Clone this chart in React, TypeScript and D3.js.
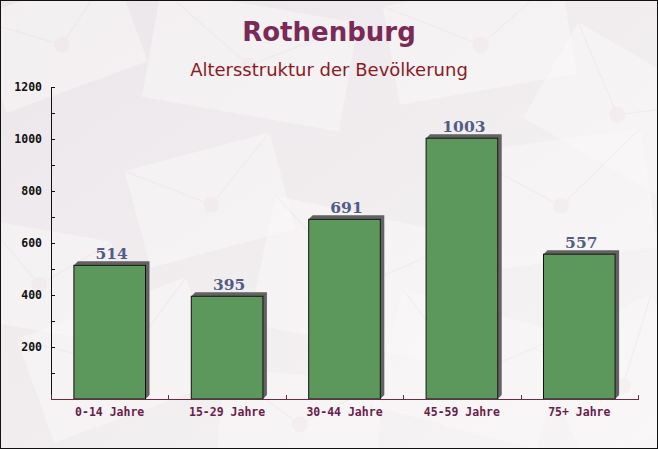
import React from "react";
import * as d3 from "d3";

const title = "Rothenburg";
const subtitle = "Altersstruktur der Bevölkerung";
const categories = ["0-14 Jahre", "15-29 Jahre", "30-44 Jahre", "45-59 Jahre", "75+ Jahre"];
const values = [514, 395, 691, 1003, 557];
const yTickValues = [200, 400, 600, 800, 1000, 1200];
const yMinorTicks = [100, 200, 300, 400, 500, 600, 700, 800, 900, 1000, 1100, 1200];

// decorative envelopes: [cx, cy, w, h, angle]
const envelopes: [number, number, number, number, number][] = [
  [60, 40, 150, 100, -20],
  [250, 60, 200, 110, 10],
  [480, 40, 180, 100, -10],
  [620, 110, 160, 110, 30],
  [210, 200, 150, 100, -15],
  [360, 280, 200, 130, 12],
  [560, 200, 180, 120, -8],
  [120, 360, 180, 110, -20],
  [470, 370, 170, 120, 15],
  [620, 380, 130, 130, -25],
  [300, 420, 160, 90, 5],
  [40, 280, 130, 100, 10],
];

export default function App() {
  const W = 658;
  const H = 449;
  const left = 51;
  const right = 638;
  const top = 87;
  const bottom = 399;

  const x = d3.scaleBand<string>().domain(categories).range([left, right]).paddingInner(0.39).paddingOuter(0.195);
  const y = d3.scaleLinear().domain([0, 1200]).range([bottom, top]);
  const bw = x.bandwidth();
  const sh = 4;
  const bounds = d3.range(categories.length + 1).map((i) => left + (i * (right - left)) / categories.length);

  return (
    <div style={{ position: "fixed", left: 0, top: 0 }}>
      <svg width={W} height={H} style={{ display: "block" }}>
        <defs>
          <linearGradient id="bg" x1="0" y1="0" x2="1" y2="1">
            <stop offset="0" stopColor="#ebe6ea" />
            <stop offset="1" stopColor="#f7f5f5" />
          </linearGradient>
        </defs>
        <rect x={0} y={0} width={W} height={H} fill="url(#bg)" />
        {envelopes.map(([cx, cy, w, h, a], i) => (
          <g key={i} transform={`translate(${cx},${cy}) rotate(${a})`} opacity={0.5}>
            <rect x={-w / 2} y={-h / 2} width={w} height={h} fill="#fbf9f9" />
            <path d={`M${-w / 2},${-h / 2} L0,${h * 0.05} L${w / 2},${-h / 2}`} fill="none" stroke="#f1eaeb" strokeWidth={1.2} />
            <circle cx={0} cy={h * 0.05} r={8} fill="#f4ecee" />
          </g>
        ))}
        <rect x={0.5} y={0.5} width={W - 1} height={H - 1} fill="none" stroke="#111" strokeWidth={1} />

        <text x={329} y={41} textAnchor="middle" fontFamily="DejaVu Sans" fontWeight="bold" fontSize={26} fill="#7b2a58">
          {title}
        </text>
        <text x={329} y={76} textAnchor="middle" fontFamily="DejaVu Sans" fontSize={18} fill="#8b1a1f">
          {subtitle}
        </text>

        {categories.map((c, i) => {
          const x0 = x(c)!;
          const yt = y(values[i]);
          const shadow = `M${x0},${yt} L${x0 + sh},${yt - sh} L${x0 + bw + sh},${yt - sh} L${x0 + bw + sh},${bottom - sh} L${x0 + bw},${bottom} L${x0 + bw},${yt} Z`;
          return (
            <g key={c}>
              <path d={shadow} fill="#626262" />
              <rect x={x0} y={yt} width={bw} height={bottom - yt} fill="#5c975c" stroke="#111" strokeWidth={1} />
              <text x={x0 + bw / 2 + 2} y={yt - 6} textAnchor="middle" fontFamily="DejaVu Serif" fontWeight="bold" fontSize={15.5} fill="#525c84">
                {values[i]}
              </text>
              <text x={x0 + bw / 2} y={416} textAnchor="middle" fontFamily="DejaVu Sans Mono" fontWeight="bold" fontSize={11.5} fill="#6b1d4a">
                {c}
              </text>
            </g>
          );
        })}

        <line x1={left + 0.5} x2={left + 0.5} y1={top} y2={bottom} stroke="#111" />
        {yMinorTicks.map((t) => (
          <line key={t} x1={left} x2={left + 4} y1={Math.round(y(t)) + 0.5} y2={Math.round(y(t)) + 0.5} stroke="#111" />
        ))}
        {yTickValues.map((t) => (
          <text key={t} x={42} y={y(t) + 4} textAnchor="end" fontFamily="DejaVu Sans Mono" fontWeight="bold" fontSize={11.5} fill="#111">
            {t}
          </text>
        ))}
        <line x1={left} x2={right + 1} y1={bottom + 0.5} y2={bottom + 0.5} stroke="#6b2a4a" />
        {bounds.map((b, i) => (
          <line key={i} x1={Math.round(b) + 0.5} x2={Math.round(b) + 0.5} y1={bottom - 4} y2={bottom} stroke="#6b2a4a" />
        ))}
      </svg>
    </div>
  );
}
